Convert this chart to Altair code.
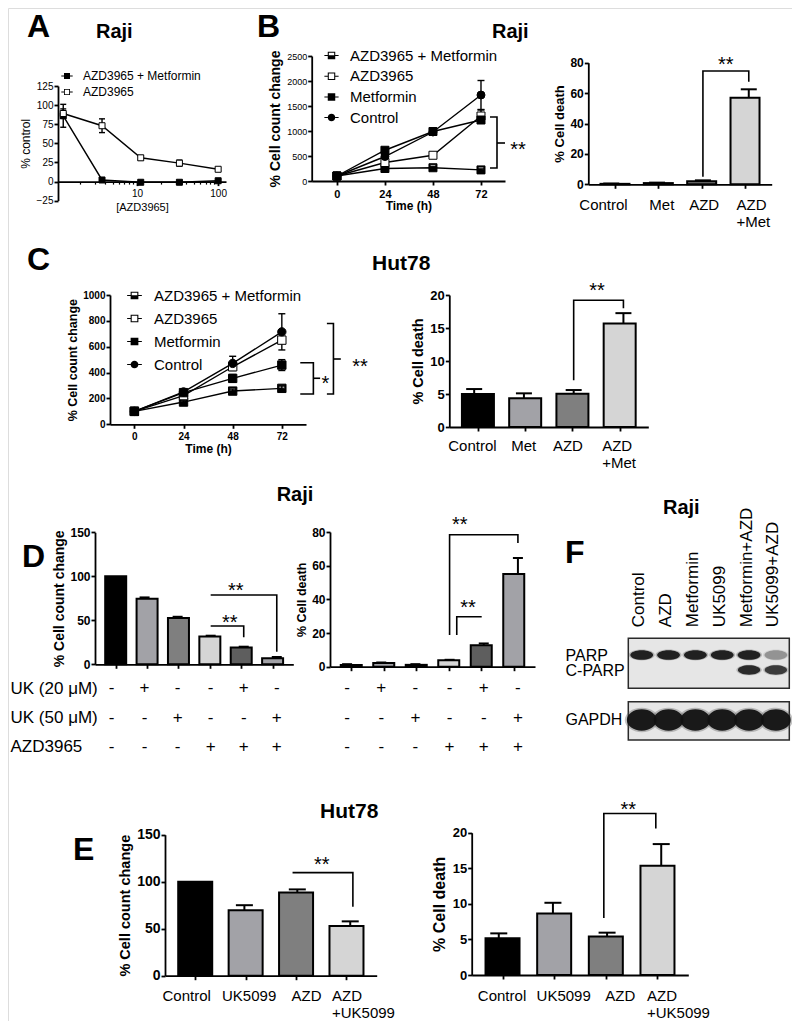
import json
import altair as alt
import pandas as pd

W, H = 784, 1013
FONT = "Liberation Sans"

# ---------------- data ----------------
# A  (Raji, dose response)
a_conc = [1.23, 3.7, 11.1, 33.3, 100]
a_series = ["AZD3965 + Metformin", "AZD3965"]
a_combo = [86, 2, -1, -1, 1]
a_combo_err = [15, 1.5, 1, 1, 1]
a_azd = [89, 73, 31, 24, 16]
a_azd_err = [6, 9, 3, 4, 2]
a_minor = [2, 3, 4, 5, 6, 7, 8, 9, 20, 30, 40, 50, 60, 70, 80, 90]

# B  (Raji, time course + death)
time_h = [0, 24, 48, 72]
tc_series = ["AZD3965 + Metformin", "AZD3965", "Metformin", "Control"]
b_combo = [100, 250, 265, 222]
b_combo_err = [10, 20, 20, 20]
b_azd = [100, 370, 515, 1300]
b_azd_err = [10, 25, 30, 120]
b_met = [100, 615, 990, 1220]
b_met_err = [10, 30, 30, 30]
b_ctrl = [100, 490, 980, 1720]
b_ctrl_err = [10, 30, 30, 290]
bm_labels = ["Control", "Met", "AZD", "AZD\n+Met"]
b_death = [0.3, 0.8, 2.0, 57.0]
b_death_err = [0.2, 0.3, 0.6, 5.5]

# C  (Hut78)
c_combo = [100, 172, 257, 278]
c_combo_err = [8, 10, 15, 18]
c_azd = [100, 222, 445, 651]
c_azd_err = [8, 10, 25, 15]
c_met = [100, 245, 355, 458]
c_met_err = [8, 10, 30, 42]
c_ctrl = [100, 250, 471, 715]
c_ctrl_err = [8, 10, 55, 140]
c_death = [5.0, 4.35, 5.05, 15.7]
c_death_err = [0.75, 0.75, 0.55, 1.55]

# D  (Raji, UK5099)
d_count = [100, 74.5, 52.5, 31.5, 19, 6.8]
d_count_err = [0, 1.5, 1.5, 1, 1, 1.5]
d_death = [1.0, 2.2, 1.1, 3.8, 12.8, 55.0]
d_death_err = [0.5, 0.3, 0.4, 0.3, 1.0, 9.5]
d_rows = ["UK (20 μM)", "UK (50 μM)", "AZD3965"]
d_uk20 = ["-", "+", "-", "-", "+", "-"]
d_uk50 = ["-", "-", "+", "-", "-", "+"]
d_azd = ["-", "-", "-", "+", "+", "+"]

# E  (Hut78, UK5099)
e_labels = ["Control", "UK5099", "AZD", "AZD\n+UK5099"]
e_count = [100, 69.5, 88.5, 52.8]
e_count_err = [0, 5.5, 3.3, 5.0]
e_death = [5.15, 8.65, 5.4, 15.35]
e_death_err = [0.7, 1.5, 0.55, 3.05]

# F  (western blot, band intensities 0..1)
f_lanes = ["Control", "AZD", "Metformin", "UK5099", "Metformin+AZD", "UK5099+AZD"]
f_rows = ["PARP", "C-PARP", "GAPDH"]
f_parp = [0.95, 0.95, 0.95, 0.95, 0.95, 0.35]
f_cparp = [0, 0, 0, 0, 0.9, 0.8]
f_gapdh = [1, 1, 1, 1, 1, 1]

# significance brackets (data units) and stars
b_brackets = [[(76.5, 1280), (80, 1280), (80, 260), (76.5, 260)], [(80, 760), (84, 760)]]
b_stars = [(90.5, 740, "**")]
b2_brackets = [[(2, 5), (2, 74.5), (3, 74.5), (3, 67.5)]]
b2_stars = [(2.5, 82.4, "**")]
c_brackets = [[(81, 476), (87.4, 476), (87.4, 234), (81, 234)], [(87.4, 356), (90.7, 356)],
              [(94, 780), (97.2, 780), (97.2, 234), (94, 234)], [(97.2, 505), (100.8, 505)]]
c_stars = [(93.3, 358, "*"), (110.2, 490, "**")]
c2_brackets = [[(2, 7.1), (2, 19.2), (3, 19.2), (3, 18.0)]]
c2_stars = [(2.47, 21.5, "**")]
d_brackets = [[(3, 43.5), (4, 43.5), (4, 30.7)], [(3, 78.8), (5, 78.8), (5, 14.3)]]
d_stars = [(3.58, 53.4, "**"), (3.76, 90.1, "**")]
d2_brackets = [[(3.21, 18.8), (3.21, 29.7), (3.94, 29.7)], [(3, 18.8), (3, 78.4), (5, 78.4), (5, 73.4)]]
d2_stars = [(3.54, 38.6, "**"), (3.3, 87.5, "**")]
e_brackets = [[(1.91, 109.7), (3.05, 109.7), (3.05, 73.4)]]
e_stars = [(2.46, 123.8, "**")]
e2_brackets = [[(1.94, 8.0), (1.94, 22.7), (2.9, 22.7), (2.9, 20.6)]]
e2_stars = [(2.39, 24.1, "**")]

# ---------------- styles ----------------
BAR4 = ["#000000", "#a2a2a7", "#7f7f7f", "#d5d5d5"]
BAR6 = ["#000000", "#a2a2a7", "#7f7f7f", "#d5d5d5", "#5e5e5e", "#a2a2a7"]
HALF = "M-1,-1H1V1H-1Z M-0.72,-0.72V-0.05H0.72V-0.72Z"
STUBS = " M-1.9,-0.13H-1V0.13H-1.9Z M1,-0.13H1.9V0.13H1Z"
LEG_HALF = HALF + STUBS
LEG_OPEN = "M-1,-1H1V1H-1Z M-0.72,-0.72V0.72H0.72V-0.72Z" + STUBS
LEG_SQ = "M-1,-1H1V1H-1Z" + STUBS
LEG_CIRC = "M-1,0A1,1,0,1,1,1,0A1,1,0,1,1,-1,0Z" + STUBS
TC_SHAPES = [HALF, "square", "square", "circle"]
TC_FILLS = ["black", "white", "black", "black"]
TC_LEG = [LEG_HALF, LEG_OPEN, LEG_SQ, LEG_CIRC]


def sc(domain, rng, stype="linear"):
    return alt.Scale(type=stype, domain=domain, range=rng, nice=False, zero=False)


AXBASE = dict(grid=False, domainColor="black", domainWidth=1.8, tickColor="black", tickWidth=1.8,
              labelColor="black", titleColor="black", labelFont=FONT, titleFont=FONT,
              labelFlush=False, labelOverlap=False)


def y_axis(px, values, title, lsize, tsize, lweight="bold", tweight="bold", tpad=3):
    return alt.Axis(orient="left", offset=-px, values=values, title=title, format="d", tickSize=4,
                    labelFontSize=lsize, labelFontWeight=lweight, labelPadding=1,
                    titleFontSize=tsize, titleFontWeight=tweight, titlePadding=tpad, **AXBASE)


def x_axis(py, values, lsize=11, lweight="bold", title=None, tsize=12, tweight="bold",
           lpad=2, tpad=2, label_lines=None, labels=True, shifts=None):
    kw = dict(orient="bottom", offset=py - H, values=values, labelFontSize=lsize,
              labelFontWeight=lweight, labelPadding=lpad, labels=labels, tickSize=4, **AXBASE)
    if title is not None:
        kw.update(title=title, titleFontSize=tsize, titleFontWeight=tweight, titlePadding=tpad)
    else:
        kw["title"] = None
    if label_lines is not None:
        kw["labelExpr"] = json.dumps([s.split("\n") for s in label_lines]) + "[datum.value]"
        kw["labelLineHeight"] = lsize + 2
    else:
        kw["format"] = "d"
    if shifts is not None:
        # GraphPad places category labels slightly off-centre; last one is left aligned
        kw["labelOffset"] = {"condition": [{"test": f"datum.value == {i}", "value": s}
                                           for i, s in enumerate(shifts)], "value": 0}
        kw["labelAlign"] = {"condition": {"test": f"datum.value == {len(shifts) - 1}", "value": "left"},
                            "value": "center"}
    return alt.Axis(**kw)


def legend(x, y, size, sym, rowpad, loff):
    return alt.Legend(orient="none", legendX=x, legendY=y, title=None, labelFont=FONT,
                      labelFontSize=size, labelColor="black", symbolSize=sym, symbolOpacity=1,
                      symbolStrokeWidth=0, rowPadding=rowpad, labelOffset=loff, padding=0)


def timecourse(xv, series, values, errors):
    rows = []
    for s, vs, es in zip(series, values, errors):
        for x, v, e in zip(xv, vs, es):
            rows.append({"series": s, "x": x, "v": v, "lo": v - e, "hi": v + e})
    return pd.DataFrame(rows)


def line_layers(df, xsc, ysc, xax, yax, series, shapes, fills, leg_shapes, leg, psize, capw):
    base = alt.Chart(df)
    X = alt.X("x:Q", scale=xsc, axis=None)
    lines = base.mark_line(color="black", strokeWidth=1.4).encode(
        x=alt.X("x:Q", scale=xsc, axis=xax), y=alt.Y("v:Q", scale=ysc, axis=yax), detail="series:N")
    err = base.mark_rule(color="black", strokeWidth=1.4).encode(
        x=X, y=alt.Y("lo:Q", scale=ysc, axis=None), y2="hi:Q")
    cap_hi = base.mark_tick(orient="horizontal", size=capw, thickness=1.4, color="black", opacity=1).encode(
        x=X, y=alt.Y("hi:Q", scale=ysc, axis=None))
    cap_lo = base.mark_tick(orient="horizontal", size=capw, thickness=1.4, color="black", opacity=1).encode(
        x=X, y=alt.Y("lo:Q", scale=ysc, axis=None))
    pts = base.mark_point(filled=True, stroke="black", strokeWidth=1, size=psize, opacity=1).encode(
        x=X, y=alt.Y("v:Q", scale=ysc, axis=None),
        shape=alt.Shape("series:N", scale=alt.Scale(domain=series, range=shapes), legend=None),
        fill=alt.Fill("series:N", scale=alt.Scale(domain=series, range=fills), legend=None))
    # invisible copy that only carries the legend (symbols drawn as line + marker)
    leg_layer = base.mark_point(filled=True, color="black", opacity=0, size=psize).encode(
        x=X, y=alt.Y("v:Q", scale=ysc, axis=None),
        shape=alt.Shape("series:N", scale=alt.Scale(domain=series, range=leg_shapes), legend=leg))
    return [lines, err, cap_hi, cap_lo, pts, leg_layer]


def bar_layers(vals, errs, fills, xsc, ysc, xax, yax, barw, capw):
    n = len(vals)
    keys = [f"g{i}" for i in range(n)]
    df = pd.DataFrame({"i": list(range(n)), "g": keys, "v": vals,
                       "hi": [v + e for v, e in zip(vals, errs)], "base": [0] * n})
    base = alt.Chart(df)
    X = alt.X("i:Q", scale=xsc, axis=None)
    bars = base.mark_bar(orient="vertical", size=barw, stroke="black", strokeWidth=2).encode(
        x=alt.X("i:Q", scale=xsc, axis=xax), y=alt.Y("v:Q", scale=ysc, axis=yax), y2="base:Q",
        fill=alt.Fill("g:N", scale=alt.Scale(domain=keys, range=fills), legend=None))
    errd = base.transform_filter("datum.hi > datum.v")
    err = errd.mark_rule(color="black", strokeWidth=2).encode(
        x=X, y=alt.Y("v:Q", scale=ysc, axis=None), y2="hi:Q")
    cap = errd.mark_tick(orient="horizontal", size=capw, thickness=2, color="black", opacity=1).encode(
        x=X, y=alt.Y("hi:Q", scale=ysc, axis=None))
    return [bars, err, cap]


def sig_layers(polys, stars, xsc, ysc, star_size=20):
    rows = [{"b": i, "k": k, "x": x, "y": y} for i, p in enumerate(polys) for k, (x, y) in enumerate(p)]
    br = alt.Chart(pd.DataFrame(rows)).mark_line(color="black", strokeWidth=1.6).encode(
        x=alt.X("x:Q", scale=xsc, axis=None), y=alt.Y("y:Q", scale=ysc, axis=None),
        detail="b:N", order="k:Q")
    st = alt.Chart(pd.DataFrame([{"x": x, "y": y, "t": t} for x, y, t in stars])).mark_text(
        font=FONT, fontSize=star_size, baseline="alphabetic", align="center", dy=12, color="black").encode(
        x=alt.X("x:Q", scale=xsc, axis=None), y=alt.Y("y:Q", scale=ysc, axis=None), text="t:N")
    return [br, st]


def label(text, x, y, size, weight="bold", align="left"):
    return alt.Chart(pd.DataFrame({"t": [text]})).mark_text(
        font=FONT, fontSize=size, fontWeight=weight, align=align, baseline="alphabetic",
        color="black").encode(text="t:N", x=alt.value(x), y=alt.value(y))


layers = []

# ---- A
a_x = sc([1.06, 125], [50, 218], "log")
a_y = sc([-25, 125], [192.6, 78])
a_df = timecourse(a_conc, a_series, [a_combo, a_azd], [a_combo_err, a_azd_err])
layers += line_layers(
    a_df, a_x, a_y,
    x_axis(173.6, [10, 100], lsize=10, lweight="normal", title="[AZD3965]", tsize=11,
           tweight="normal", lpad=3, tpad=3),
    y_axis(50, [-25, 0, 25, 50, 75, 100, 125], "% control", 10, 12, lweight="normal",
           tweight="normal", tpad=4),
    a_series, ["square", "square"], ["black", "white"], [LEG_SQ, LEG_OPEN],
    legend(53, 62, 12, 36, 4, 10), 36, 6)
# minor ticks of the log axis
layers.append(alt.Chart(a_df).mark_point(opacity=0).encode(
    x=alt.X("x:Q", scale=a_x, axis=alt.Axis(orient="bottom", offset=173.6 - H, values=a_minor,
                                            labels=False, title=None, domain=False, tickSize=2.5,
                                            tickColor="black", tickWidth=1.2, grid=False)),
    y=alt.Y("v:Q", scale=a_y, axis=None)))

# ---- B left
b_x = sc([-12.6, 84], [303.7, 497])
b_y = sc([0, 2500], [173, 48])
layers += line_layers(
    timecourse(time_h, tc_series, [b_combo, b_azd, b_met, b_ctrl],
               [b_combo_err, b_azd_err, b_met_err, b_ctrl_err]), b_x, b_y,
    x_axis(173, time_h, lsize=11, title="Time (h)", tsize=12, lpad=3, tpad=1),
    y_axis(303.7, [0, 500, 1000, 1500, 2000, 2500], "% Cell count change", 9, 14, lweight="normal",
           tpad=4),
    tc_series, TC_SHAPES, TC_FILLS, TC_LEG, legend(316, 40, 15, 56, 4.7, 11), 64, 7)
layers += sig_layers(b_brackets, b_stars, b_x, b_y)

# ---- B right
b2_x = sc([-0.5, 3.5], [580.3, 763.7])
b2_y = sc([0, 80], [176.3, 54.7])
layers += bar_layers(
    b_death, b_death_err, BAR4, b2_x, b2_y,
    x_axis(176.3, [0, 1, 2, 3], lsize=15, lweight="normal", lpad=9, label_lines=bm_labels,
           shifts=[-12, 3, 2, -9]),
    y_axis(580.3, [0, 20, 40, 60, 80], "% Cell death", 12, 13), 29, 16)
layers += sig_layers(b2_brackets, b2_stars, b2_x, b2_y)

# ---- C left
c_x = sc([-11.9, 83.8], [102, 298])
c_y = sc([0, 1000], [416.3, 287])
layers += line_layers(
    timecourse(time_h, tc_series, [c_combo, c_azd, c_met, c_ctrl],
               [c_combo_err, c_azd_err, c_met_err, c_ctrl_err]), c_x, c_y,
    x_axis(416.3, time_h, lsize=10, title="Time (h)", tsize=12, lpad=3, tpad=2),
    y_axis(102, [0, 200, 400, 600, 800, 1000], "% Cell count change", 10, 12.5),
    tc_series, TC_SHAPES, TC_FILLS, TC_LEG, legend(119, 280, 15, 60, 7, 12), 70, 7)
layers += sig_layers(c_brackets, c_stars, c_x, c_y)

# ---- C right
c2_x = sc([-0.5, 3.5], [441.3, 640.3])
c2_y = sc([0, 20], [419, 287])
layers += bar_layers(
    c_death, c_death_err, BAR4, c2_x, c2_y,
    x_axis(419, [0, 1, 2, 3], lsize=15, lweight="normal", lpad=7, label_lines=bm_labels,
           shifts=[-6, -2, -5, -18]),
    y_axis(441.3, [0, 5, 10, 15, 20], "% Cell death", 13, 14.5, tpad=4), 32, 16)
layers += sig_layers(c2_brackets, c2_stars, c2_x, c2_y)

# ---- D left
d_x = sc([-0.5, 5.5], [87, 285.3])
d_y = sc([0, 150], [656.3, 524.3])
layers += bar_layers(
    d_count, d_count_err, BAR6, d_x, d_y,
    x_axis(656.3, list(range(6)), labels=False),
    y_axis(87, [0, 50, 100, 150], "% Cell count change", 12, 14), 21, 10)
layers += sig_layers(d_brackets, d_stars, d_x, d_y)

# ---- D right
d2_x = sc([-0.5, 5.5], [322, 527])
d2_y = sc([0, 80], [658.7, 524])
layers += bar_layers(
    d_death, d_death_err, BAR6, d2_x, d2_y,
    x_axis(658.7, list(range(6)), labels=False),
    y_axis(322, [0, 20, 40, 60, 80], "% Cell death", 12, 12.5), 21, 10)
layers += sig_layers(d2_brackets, d2_stars, d2_x, d2_y)

# ---- D treatment tables
tab_rows = []
for r, signs in zip(d_rows, [d_uk20, d_uk50, d_azd]):
    for i, s in enumerate(signs):
        tab_rows.append({"row": r, "i": i, "s": s})
tab_df = pd.DataFrame(tab_rows)
row_sc = alt.Scale(type="point", domain=d_rows, range=[680.3, 738.7], padding=0)
row_axis = alt.Axis(orient="left", offset=-2, title=None, domain=False, ticks=False, tickSize=0,
                    labelPadding=0, labelAlign="left", labelBaseline="middle", labelFont=FONT,
                    labelFontSize=17, labelColor="black", grid=False)
layers.append(alt.Chart(tab_df).mark_text(font=FONT, fontSize=17, color="black").encode(
    x=alt.X("i:Q", scale=d_x, axis=None), y=alt.Y("row:N", scale=row_sc, axis=row_axis), text="s:N"))
layers.append(alt.Chart(tab_df).mark_text(font=FONT, fontSize=17, color="black").encode(
    x=alt.X("i:Q", scale=d2_x, axis=None), y=alt.Y("row:N", scale=row_sc, axis=None), text="s:N"))

# ---- F western blot
nl = len(f_lanes)
f_x = sc([-0.5, nl - 0.5], [620.3, 781.3])
f_y = sc([-1.5, 6.0], [624.5, 737])
row_pos = [0.0, 1.0, 4.33]
boxes = pd.DataFrame({"x1": [-0.5, -0.5], "x2": [nl - 0.5] * 2, "y1": [-1.11, 3.11], "y2": [2.22, 5.67]})
lane_axis = alt.Axis(orient="top", offset=-618.7, values=list(range(nl)), title=None, domain=False,
                     ticks=False, tickSize=0, labelPadding=0, labelAngle=270, labelAlign="left",
                     labelBaseline="middle", labelFont=FONT, labelFontSize=17, labelColor="black",
                     labelExpr=json.dumps(f_lanes) + "[datum.value]", grid=False,
                     labelFlush=False, labelOverlap=False, labelOffset=-3)
rowlab_axis = alt.Axis(orient="left", offset=-557, values=row_pos, title=None, domain=False,
                       ticks=False, tickSize=0, labelPadding=0, labelAlign="left",
                       labelBaseline="middle", labelFont=FONT, labelFontSize=16, labelColor="black",
                       labelExpr=json.dumps(f_rows) + "[indexof(" + json.dumps(row_pos) + ", datum.value)]",
                       grid=False, labelFlush=False, labelOverlap=False)
layers.append(alt.Chart(boxes).mark_rect(fill="#e6e6e6", stroke="#2a2a2a", strokeWidth=1.5).encode(
    x=alt.X("x1:Q", scale=f_x, axis=lane_axis), x2="x2:Q",
    y=alt.Y("y1:Q", scale=f_y, axis=rowlab_axis), y2="y2:Q"))
ELL_THIN = "M-1,0A1,0.42,0,1,1,1,0A1,0.42,0,1,1,-1,0Z"
ELL_FAT = "M-1,0A1,0.72,0,1,1,1,0A1,0.72,0,1,1,-1,0Z"
for pos, inten, shp, size in [(row_pos[0], f_parp, ELL_THIN, 520), (row_pos[1], f_cparp, ELL_THIN, 500),
                              (row_pos[2], f_gapdh, ELL_FAT, 880)]:
    bdf = pd.DataFrame({"i": list(range(nl)), "r": [pos] * nl, "a": inten})
    bdf = bdf[bdf["a"] > 0]
    bc = alt.Chart(bdf)
    layers.append(bc.transform_calculate(op="datum.a * 0.35").mark_point(
        shape=shp, size=size * 1.3, filled=True, color="#555555", strokeWidth=0).encode(
        x=alt.X("i:Q", scale=f_x, axis=None), y=alt.Y("r:Q", scale=f_y, axis=None),
        opacity=alt.Opacity("op:Q", scale=None)))
    layers.append(bc.transform_calculate(op="datum.a * 0.95").mark_point(
        shape=shp, size=size, filled=True, color="#111111", strokeWidth=0).encode(
        x=alt.X("i:Q", scale=f_x, axis=None), y=alt.Y("r:Q", scale=f_y, axis=None),
        opacity=alt.Opacity("op:Q", scale=None)))

# ---- E left
e_x = sc([-0.5, 3.5], [157, 368.7])
e_y = sc([0, 150], [967.7, 826.7])
layers += bar_layers(
    e_count, e_count_err, BAR4, e_x, e_y,
    x_axis(967.7, [0, 1, 2, 3], lsize=15, lweight="normal", lpad=9, label_lines=e_labels,
           shifts=[-9, 3, 10, -15]),
    y_axis(157, [0, 50, 100, 150], "% Cell count change", 14, 14.5, tpad=4), 34, 17)
layers += sig_layers(e_brackets, e_stars, e_x, e_y)

# ---- E right
e2_x = sc([-0.5, 3.5], [463.7, 680.3])
e2_y = sc([0, 20], [967, 824.7])
layers += bar_layers(
    e_death, e_death_err, BAR4, e2_x, e2_y,
    x_axis(967, [0, 1, 2, 3], lsize=15, lweight="normal", lpad=9, label_lines=e_labels,
           shifts=[-1, 9, 14, -11]),
    y_axis(463.7, [0, 5, 10, 15, 20], "% Cell death", 13, 16, tpad=5), 34, 17)
layers += sig_layers(e2_brackets, e2_stars, e2_x, e2_y)

# ---- panel letters and titles
layers += [
    label("A", 19, 29, 32), label("Raji", 88, 30, 20),
    label("B", 249, 29, 32), label("Raji", 484, 30, 20),
    label("C", 19, 262, 32), label("Hut78", 364, 262, 21),
    label("Raji", 287, 493, 20, align="center"),
    label("D", 14, 559, 32), label("F", 557, 555, 32), label("Raji", 655, 506, 20),
    label("Hut78", 312, 810, 21), label("E", 65, 852, 32),
]

chart = alt.layer(*layers).resolve_scale(
    x="independent", y="independent", shape="independent", fill="independent",
    opacity="independent").resolve_axis(x="independent", y="independent").resolve_legend(
    shape="independent", fill="independent").properties(
    width=W, height=H, autosize=alt.AutoSizeParams(type="none"), padding=0).configure_view(
    strokeWidth=0, stroke="transparent").configure(font=FONT, background="white")

chart.save("out.html", embed_options={"renderer": "svg", "actions": False})
